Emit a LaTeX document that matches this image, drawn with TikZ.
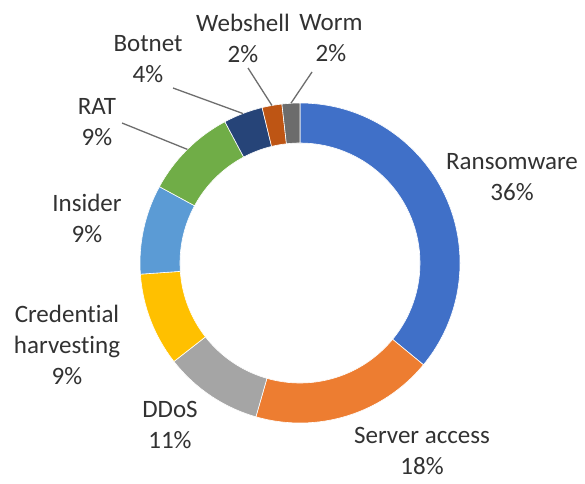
\documentclass[tikz,border=0pt]{standalone}
\usepackage{fontspec}
\setmainfont{Carlito}[Ligatures={NoCommon}]
\usetikzlibrary{calc}

\definecolor{cRansom}{RGB}{64,112,200}
\definecolor{cServer}{RGB}{237,125,49}
\definecolor{cDdos}{RGB}{165,165,165}
\definecolor{cCred}{RGB}{255,192,0}
\definecolor{cInsider}{RGB}{91,155,213}
\definecolor{cRat}{RGB}{112,173,71}
\definecolor{cBotnet}{RGB}{38,68,120}
\definecolor{cWebshell}{RGB}{190,85,20}
\definecolor{cWorm}{RGB}{108,108,108}
\definecolor{labelgray}{RGB}{50,50,50}
\definecolor{leadergray}{RGB}{110,110,110}

\begin{document}
\begin{tikzpicture}[x=1pt,y=1pt,
  lbl/.style={font=\fontsize{25}{31}\selectfont, text=labelgray, align=center, inner sep=0pt},
  leader/.style={draw=leadergray, line width=1.3pt}]
\useasboundingbox[fill=white] (0,0) rectangle (585,483);
\coordinate (c) at (300,220);

% annular sector: start angle, end angle, colour
\newcommand\ringslice[3]{%
  \fill[#3, draw=white, line width=0.6pt]
    ($(c)+(#1:160pt)$) arc[start angle=#1, end angle=#2, radius=160pt]
    -- ($(c)+(#2:120pt)$) arc[start angle=#2, end angle=#1, radius=120pt] -- cycle;}

\ringslice{90}{-39.5}{cRansom}
\ringslice{-39.5}{-106}{cServer}
\ringslice{-106}{-142}{cDdos}
\ringslice{-142}{-176}{cCred}
\ringslice{-176}{-208.5}{cInsider}
\ringslice{-208.5}{-242}{cRat}
\ringslice{-242}{-256.3}{cBotnet}
\ringslice{-256.3}{-263.5}{cWebshell}
\ringslice{-263.5}{-270}{cWorm}

% labels
\node[lbl] (ransom) at (512,306) {Ransomware\\36\%};
\node[lbl] (server) at (422,32) {Server access\\18\%};
\node[lbl] (ddos) at (170,58) {DDoS\\11\%};
\node[lbl] (cred) at (67,138) {Credential\\harvesting\\9\%};
\node[lbl] (insider) at (87,264.5) {Insider\\9\%};
\node[lbl] (rat) at (97,360.5) {RAT\\9\%};
\node[lbl] (botnet) at (148,424) {Botnet\\4\%};
\node[lbl] (webshell) at (243,444.5) {Webshell\\2\%};
\node[lbl] (worm) at (331,444.5) {Worm\\2\%};

% leader lines from small labels to their slices
\coordinate (ratA) at (122,360);
\coordinate (ratB) at ($(c)+(134.75:160pt)$);
\coordinate (botA) at (173,395);
\coordinate (botB) at ($(c)+(110.9:160pt)$);
\coordinate (webA) at (248,415);
\coordinate (webB) at ($(c)+(100.1:160pt)$);
\coordinate (wormA) at (312,411);
\coordinate (wormB) at ($(c)+(93.25:160pt)$);
\draw[leader] (ratA) -- (ratB);
\draw[leader] (botA) -- (botB);
\draw[leader] (webA) -- (webB);
\draw[leader] (wormA) -- (wormB);
\end{tikzpicture}
\end{document}
